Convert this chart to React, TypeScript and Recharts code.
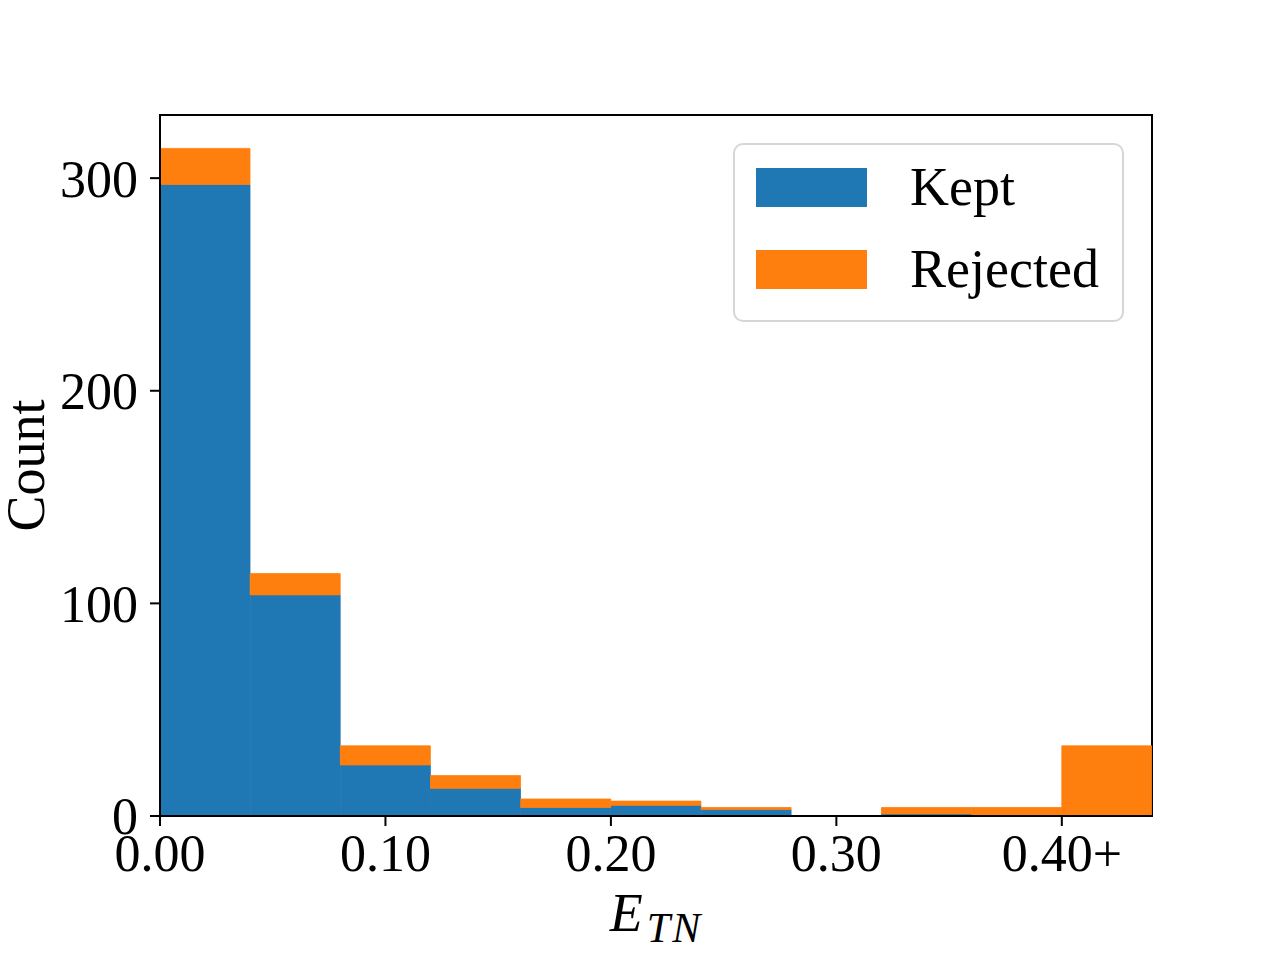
import { ComposedChart, Bar, XAxis, YAxis, Legend, ReferenceArea } from "recharts";

// histogram of E_TN, bins of width 0.04, last bin collects everything >= 0.40
const binCenters = [0.02, 0.06, 0.1, 0.14, 0.18, 0.22, 0.26, 0.3, 0.34, 0.38, 0.42];
const keptCounts = [297, 104, 24, 13, 4, 5, 3, 0, 1, 0, 0];
const rejectedCounts = [17, 10, 9, 6, 4, 2, 1, 0, 3, 4, 33];

const xTicks = [0, 0.1, 0.2, 0.3, 0.4];
const xTickLabels = ["0.00", "0.10", "0.20", "0.30", "0.40+"];
const yTicks = [0, 100, 200, 300];
const xRange = [0, 0.44];

const FONT = "'Liberation Serif', 'DejaVu Serif', serif";
const FONT_SIZE = 54;
const TICK_SIZE = 52;
const KEPT_COLOR = "#1f77b4";
const REJECTED_COLOR = "#ff7f0e";

const chartData = binCenters.map((x, i) => ({
  x,
  kept: keptCounts[i],
  rejected: rejectedCounts[i],
}));

const totals = keptCounts.map((k, i) => k + rejectedCounts[i]);
const yMax = Math.max(...totals) * 1.05;

function LegendBox({ payload }: any) {
  return (
    <div
      style={{
        position: "relative",
        width: 391,
        height: 179,
        boxSizing: "border-box",
        border: "2px solid #d6d6d6",
        borderRadius: 10,
        background: "rgba(255,255,255,0.8)",
        fontFamily: FONT,
        fontSize: FONT_SIZE,
        color: "#000",
      }}
    >
      {(payload || []).map((entry: any, i: number) => (
        <div
          key={entry.value}
          style={{
            position: "absolute",
            left: 21,
            top: 23 + i * 82,
            height: 39,
            display: "flex",
            alignItems: "center",
          }}
        >
          <span style={{ display: "inline-block", width: 111, height: 39, background: entry.color }} />
          <span style={{ marginLeft: 43, lineHeight: "39px", whiteSpace: "nowrap" }}>{entry.value}</span>
        </div>
      ))}
    </div>
  );
}

function XLabel({ viewBox }: any) {
  const cx = viewBox.x + viewBox.width / 2;
  return (
    <text x={cx} y={931} textAnchor="middle" fontFamily={FONT} fill="#000">
      <tspan fontStyle="italic" fontSize={FONT_SIZE}>E</tspan>
      <tspan fontStyle="italic" fontSize={42} dy={11} dx={4} letterSpacing={2}>TN</tspan>
    </text>
  );
}

function YLabel({ viewBox }: any) {
  const cy = viewBox.y + viewBox.height / 2;
  return (
    <text
      x={44}
      y={cy}
      transform={`rotate(-90, 44, ${cy})`}
      textAnchor="middle"
      fontFamily={FONT}
      fontSize={FONT_SIZE}
      fill="#000"
    >
      Count
    </text>
  );
}

export default function App() {
  return (
    <div style={{ position: "absolute", left: 0, top: 0, width: 1280, height: 960, background: "#fff" }}>
      <ComposedChart
        width={1280}
        height={960}
        data={chartData}
        margin={{ top: 115, right: 128, bottom: 0, left: 0 }}
        barCategoryGap={0}
        barGap={0}
      >
        <XAxis
          dataKey="x"
          type="number"
          domain={xRange}
          allowDataOverflow
          ticks={xTicks}
          tickFormatter={(v: number) => xTickLabels[xTicks.indexOf(v)] ?? String(v)}
          height={144}
          tickSize={10}
          tickMargin={8}
          axisLine={{ stroke: "#000", strokeWidth: 2 }}
          tickLine={{ stroke: "#000", strokeWidth: 2 }}
          tick={{ fill: "#000", fontSize: TICK_SIZE, fontFamily: FONT }}
          interval={0}
          label={<XLabel />}
        />
        <YAxis
          type="number"
          domain={[0, yMax]}
          allowDataOverflow
          ticks={yTicks}
          width={160}
          tickSize={10}
          tickMargin={12}
          axisLine={{ stroke: "#000", strokeWidth: 2 }}
          tickLine={{ stroke: "#000", strokeWidth: 2 }}
          tick={{ fill: "#000", fontSize: TICK_SIZE, fontFamily: FONT }}
          interval={0}
          label={<YLabel />}
        />
        <Bar
          dataKey="kept"
          name="Kept"
          stackId="h"
          fill={KEPT_COLOR}
          stroke={KEPT_COLOR}
          strokeWidth={0.8}
          isAnimationActive={false}
        />
        <Bar
          dataKey="rejected"
          name="Rejected"
          stackId="h"
          fill={REJECTED_COLOR}
          stroke={REJECTED_COLOR}
          strokeWidth={0.8}
          isAnimationActive={false}
        />
        <ReferenceArea
          x1={xRange[0]}
          x2={xRange[1]}
          y1={0}
          y2={yMax}
          fill="none"
          stroke="#000"
          strokeWidth={2}
        />
        <Legend
          layout="horizontal"
          verticalAlign="middle"
          align="center"
          wrapperStyle={{ left: 733, top: 143, width: 391, height: 179 }}
          content={<LegendBox />}
        />
      </ComposedChart>
    </div>
  );
}
